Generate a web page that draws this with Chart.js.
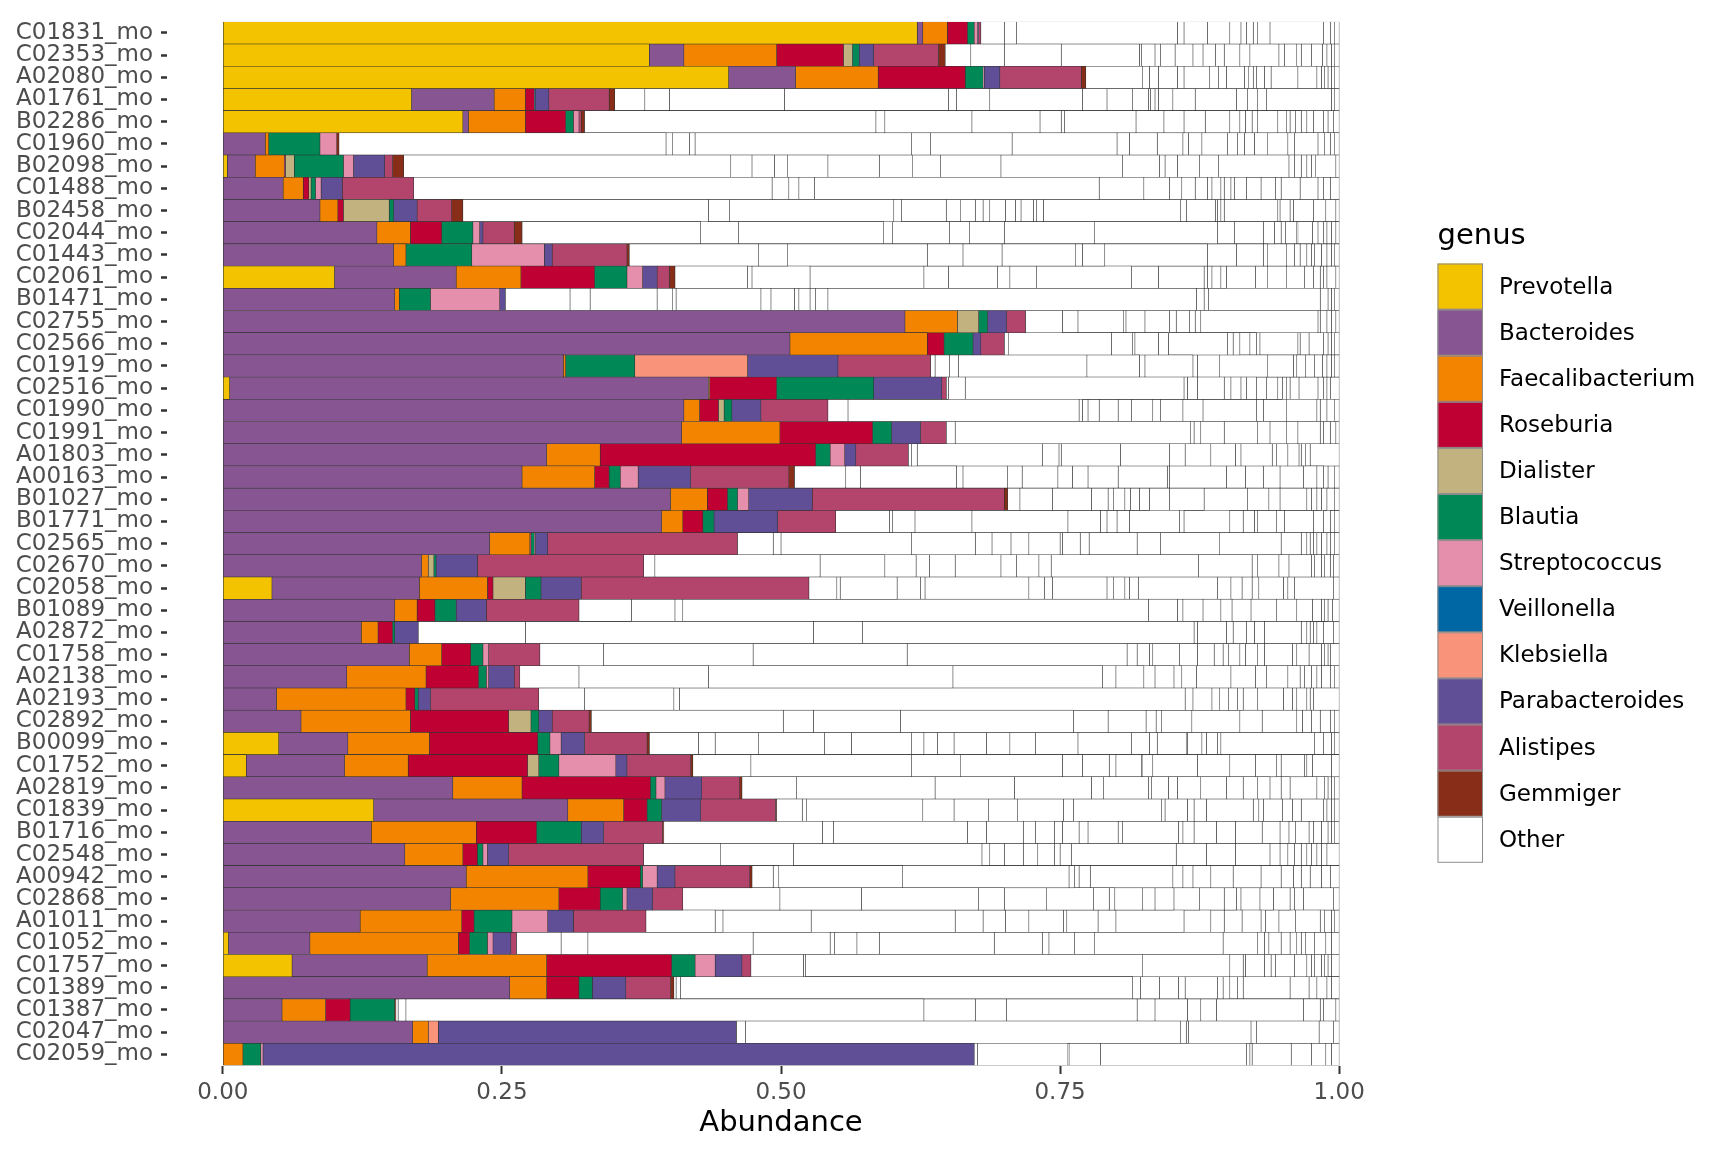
<!DOCTYPE html>
<html>
<head>
<meta charset="utf-8">
<script src="https://cdn.jsdelivr.net/npm/chart.js@4.4.1/dist/chart.umd.min.js"></script>
<style>
  html, body { margin: 0; padding: 0; background: #ffffff; }
  #wrap { width: 1728px; height: 1152px; position: relative; }
</style>
</head>
<body>
<div id="wrap"><canvas id="abundanceChart"></canvas></div>
<script>
// samples, top to bottom
const samples = ['C01831_mo','C02353_mo','A02080_mo','A01761_mo','B02286_mo','C01960_mo','B02098_mo','C01488_mo',
  'B02458_mo','C02044_mo','C01443_mo','C02061_mo','B01471_mo','C02755_mo','C02566_mo','C01919_mo','C02516_mo',
  'C01990_mo','C01991_mo','A01803_mo','A00163_mo','B01027_mo','B01771_mo','C02565_mo','C02670_mo','C02058_mo',
  'B01089_mo','A02872_mo','C01758_mo','A02138_mo','A02193_mo','C02892_mo','B00099_mo','C01752_mo','A02819_mo',
  'C01839_mo','B01716_mo','C02548_mo','A00942_mo','C02868_mo','A01011_mo','C01052_mo','C01757_mo','C01389_mo',
  'C01387_mo','C02047_mo','C02059_mo'];

const genera = ['Prevotella','Bacteroides','Faecalibacterium','Roseburia','Dialister','Blautia','Streptococcus',
  'Veillonella','Klebsiella','Parabacteroides','Alistipes','Gemmiger'];

// relative abundance per genus (one value per sample)
const prevotella = [.622,.382,.453,.169,.215,0,.004,0,0,0,0,.100,0,0,0,0,.006,0,0,0,0,0,0,0,0,.044,0,0,0,0,0,0,.050,.021,0,.135,0,0,0,0,0,.005,.062,0,0,0,0];
const bacteroides = [.005,.031,.060,.074,.005,.038,.025,.054,.087,.138,.153,.109,.154,.611,.508,.305,.429,.413,.411,.290,.268,.401,.393,.239,.178,.132,.154,.124,.167,.111,.048,.070,.062,.088,.206,.174,.133,.163,.218,.204,.123,.073,.121,.257,.053,.170,0];
const faecalibacterium = [.022,.083,.074,.028,.051,.003,.026,.018,.016,.030,.011,.058,.004,.047,.123,.002,.001,.014,.088,.048,.065,.033,.019,.036,.006,.061,.020,.015,.029,.071,.116,.098,.073,.057,.062,.050,.094,.052,.109,.097,.091,.133,.107,.033,.039,.014,.018];
const roseburia = [.018,.060,.078,.008,.036,0,.001,.005,.005,.028,0,.066,0,0,.015,0,.060,.017,.083,.193,.013,.018,.018,.001,0,.005,.016,.013,.026,.047,.008,.088,.097,.107,.115,.021,.054,.013,.047,.037,.011,.010,.112,.029,.022,0,0];
const dialister = [0,.008,0,0,0,0,.008,.002,.041,0,0,0,0,.019,0,0,0,.005,0,0,0,0,0,0,.005,.029,0,0,0,0,0,.020,0,.010,0,0,0,0,0,0,0,0,0,0,0,0,0];
const blautia = [.006,.006,.016,0,.007,.046,.044,.004,.004,.028,.059,.029,.028,.008,.026,.062,.087,.007,.017,.013,.010,.009,.010,.003,.002,.014,.019,.002,.011,.007,.003,.007,.011,.018,.005,.013,.040,.005,.002,.020,.034,.016,.021,.012,.040,0,.016];
const streptococcus = [.003,0,.001,0,.005,.015,.009,.005,0,.006,.065,.014,.062,0,0,0,0,0,0,.013,.016,.010,0,.001,0,0,0,0,.005,.002,0,0,.010,.051,.008,0,0,.004,.013,.004,.032,.005,.018,0,0,0,.002];
const veillonella = [0,0,0,.001,0,0,0,0,0,0,0,0,0,0,0,0,0,0,0,0,0,0,0,0,0,0,0,0,0,0,0,0,0,0,0,0,0,0,0,0,0,0,0,0,0,0,0];
const klebsiella = [0,0,0,0,0,0,0,0,0,0,0,0,0,0,0,.101,0,0,0,0,0,0,0,0,0,0,0,0,0,0,0,0,0,0,0,0,0,0,0,0,0,0,0,0,0,.009,0];
const parabacteroides = [.001,.013,.014,.012,0,0,.028,.019,.021,.003,.007,.013,.005,.017,.007,.081,.061,.026,.026,.010,.047,.057,.057,.011,.037,.036,.027,.021,0,.023,.011,.012,.021,.010,.033,.035,.020,.019,.016,.023,.023,.016,.024,.030,0,.267,.637];
const alistipes = [.002,.058,.073,.054,.002,0,.007,.064,.031,.028,.067,.011,0,.017,.021,.083,.004,.060,.023,.047,.088,.172,.052,.170,.149,.204,.083,0,.046,.005,.097,.033,.056,.057,.034,.067,.053,.121,.067,.027,.065,.005,.008,.040,0,0,0];
const gemmiger = [0,.006,.004,.005,.003,.002,.010,0,.010,.007,.002,.005,0,0,0,0,0,0,0,0,.005,.003,0,0,0,0,0,0,0,0,0,.002,.002,.002,.002,.001,.001,0,.002,0,0,0,0,.003,.001,0,0];

// cut points between the many small "Other" taxa, per sample
const otherBreaks = [
  [.700,.711,.855,.861,.882,.902,.912,.917,.923,.927,.938,.986,.992,.996],
  [.670,.700,.751,.821,.823,.835,.840,.853,.869,.878,.889,.897,.911,.920,.946,.951,.962,.966,.975,.985,.989,.993,.996],
  [.824,.830,.838,.855,.861,.884,.892,.899,.915,.919,.923,.926,.933,.939,.963,.980,.984,.987,.990,.993,.996],
  [.378,.400,.503,.650,.657,.687,.770,.792,.815,.829,.831,.835,.838,.851,.871,.908,.918,.927,.935,.993,.996],
  [.585,.593,.671,.732,.751,.754,.818,.843,.861,.880,.902,.911,.916,.922,.927,.945,.953,.956,.961,.966,.971,.977,.986,.990,.995],
  [.397,.403,.418,.423,.617,.634,.707,.801,.812,.837,.860,.865,.877,.900,.909,.915,.924,.936,.954,.960,.981,.987,.992,.996],
  [.455,.474,.494,.506,.542,.588,.618,.643,.697,.806,.839,.844,.855,.875,.892,.955,.960,.966,.971,.975,.979,.997],
  [.492,.507,.516,.530,.785,.825,.848,.859,.871,.882,.886,.894,.897,.903,.906,.917,.930,.943,.948,.965,.981,.986,.992],
  [.435,.454,.601,.608,.648,.661,.674,.681,.687,.701,.710,.715,.726,.729,.735,.858,.863,.889,.891,.894,.897,.945,.947,.956,.959,.977,.988,.997],
  [.428,.462,.592,.600,.651,.669,.700,.781,.891,.906,.932,.942,.948,.952,.962,.963,.976,.981,.986,.989,.993,.997],
  [.480,.506,.631,.663,.698,.764,.770,.790,.882,.908,.932,.936,.953,.960,.965,.971,.975,.978,.984,.989,.993,.996],
  [.470,.474,.526,.628,.650,.694,.705,.729,.814,.838,.879,.882,.886,.894,.899,.925,.936,.953,.969,.977,.983,.986,.989,.997],
  [.311,.329,.389,.403,.406,.482,.491,.512,.516,.526,.531,.542,.872,.879,.883,.983,.990,.993,.996],
  [.752,.766,.807,.809,.826,.848,.854,.866,.871,.876,.981,.983,.989,.993,.997],
  [.704,.796,.815,.817,.838,.847,.900,.905,.911,.920,.926,.929,.963,.965,.973,.986,.990,.993,.996],
  [.638,.651,.659,.774,.821,.826,.869,.873,.893,.936,.959,.962,.970,.978,.985,.989,.993,.996],
  [.650,.665,.861,.864,.873,.897,.903,.912,.917,.926,.935,.945,.949,.953,.956,.964,.981,.986,.989,.992],
  [.560,.767,.770,.775,.785,.802,.814,.833,.840,.860,.878,.926,.932,.953,.980,.983,.989,.996],
  [.656,.867,.870,.876,.897,.927,.938,.953,.963,.983,.986,.992,.997],
  [.617,.622,.734,.749,.751,.804,.848,.862,.885,.907,.912,.940,.944,.954,.964,.966,.970,.974],
  [.558,.571,.657,.663,.703,.716,.748,.761,.775,.802,.846,.848,.899,.916,.932,.947,.968,.980,.986,.990,.996],
  [.714,.743,.778,.793,.798,.808,.813,.821,.830,.848,.879,.918,.937,.947,.971,.975,.980,.984,.989,.996],
  [.597,.600,.620,.671,.757,.786,.792,.801,.812,.857,.861,.902,.914,.924,.927,.944,.951,.977,.986,.992,.996],
  [.493,.500,.617,.674,.689,.706,.722,.750,.752,.768,.776,.819,.840,.893,.948,.966,.971,.974,.977,.980,.984,.989,.992,.996],
  [.387,.535,.593,.621,.633,.656,.697,.711,.731,.742,.874,.922,.927,.946,.955,.975,.978,.984,.987,.992,.995],
  [.550,.553,.604,.625,.629,.722,.736,.743,.792,.798,.808,.812,.820,.891,.903,.913,.922,.928,.950,.954,.960,.995],
  [.366,.405,.412,.829,.855,.860,.878,.894,.904,.921,.944,.962,.976,.984,.987,.990,.994],
  [.271,.529,.573,.870,.873,.899,.905,.917,.924,.933,.966,.971,.974,.977,.980,.986,.995],
  [.341,.475,.613,.810,.819,.830,.833,.857,.873,.888,.896,.901,.911,.916,.927,.933,.958,.962,.973,.984,.987,.990,.992],
  [.319,.435,.654,.788,.800,.825,.835,.852,.859,.872,.903,.925,.935,.954,.965,.969,.975,.980,.984,.992,.996],
  [.324,.404,.409,.862,.869,.886,.893,.901,.909,.914,.927,.950,.958,.962,.971,.974,.977],
  [.502,.529,.607,.762,.793,.827,.836,.841,.868,.911,.931,.962,.967,.975,.983,.992,.996],
  [.426,.441,.480,.539,.563,.617,.628,.640,.655,.684,.705,.728,.766,.814,.830,.837,.863,.864,.877,.881,.891,.894,.978,.986,.993,.996],
  [.473,.617,.661,.752,.770,.794,.800,.823,.824,.833,.873,.902,.925,.944,.948,.969,.971,.976,.993],
  [.514,.638,.709,.778,.789,.829,.832,.847,.855,.876,.899,.914,.927,.938,.948,.956,.980,.987,.990,.993,.996],
  [.519,.523,.627,.655,.686,.712,.753,.762,.841,.844,.864,.870,.881,.923,.928,.932,.949,.958,.966,.986,.989,.993,.996],
  [.537,.547,.667,.684,.717,.728,.745,.752,.767,.775,.802,.806,.856,.860,.870,.890,.907,.931,.947,.955,.961,.973,.977,.984,.990,.993,.996],
  [.446,.511,.680,.687,.700,.717,.730,.745,.750,.760,.854,.881,.907,.938,.947,.954,.960,.966,.971,.975,.980,.984,.989],
  [.493,.498,.609,.758,.763,.767,.777,.851,.860,.869,.885,.905,.930,.948,.959,.966,.974,.984,.992],
  [.499,.572,.677,.700,.738,.780,.794,.799,.824,.835,.852,.875,.897,.908,.912,.929,.941,.956,.960,.968,.995],
  [.441,.448,.527,.656,.681,.701,.722,.753,.756,.784,.800,.861,.885,.897,.913,.930,.934,.946,.961,.983,.987,.993,.996],
  [.303,.327,.475,.544,.548,.568,.588,.691,.734,.740,.763,.781,.896,.927,.933,.937,.948,.956,.962,.966,.970,.978,.988,.993],
  [.520,.522,.824,.902,.914,.916,.933,.939,.943,.960,.971,.975,.978,.984,.987,.990,.993],
  [.406,.410,.815,.822,.839,.856,.862,.891,.896,.902,.909,.914,.956,.973,.980,.989,.993],
  [.157,.164,.628,.674,.702,.819,.835,.864,.876,.890,.968,.983,.986,.997],
  [.468,.858,.863,.865,.921,.926,.982,.995],
  [.676,.757,.758,.786,.917,.920,.922,.957,.975,.988,.993]
];

const xTicks = [0, 0.25, 0.5, 0.75, 1];

// Kelly palette, same order as the legend
const colors = ['#F3C300','#875692','#F38400','#BE0032','#C2B280','#008856','#E68FAC','#0067A5','#F99379','#604E97','#B3446C','#882D17'];
const genusValues = [prevotella, bacteroides, faecalibacterium, roseburia, dialister, blautia, streptococcus,
  veillonella, klebsiella, parabacteroides, alistipes, gemmiger];

const FONT = "'DejaVu Sans', 'Liberation Sans', sans-serif";
const EDGE = '#333333';

document.addEventListener('DOMContentLoaded', () => {
    initChart();
});

function buildDatasets() {
    const sets = genera.map((g, i) => ({
        label: g,
        data: genusValues[i].map(v => (v > 0 ? v : null)),
        backgroundColor: colors[i]
    }));

    // split the rest of every bar into the white "Other" pieces
    const pieces = samples.map((s, r) => {
        const start = genusValues.reduce((acc, arr) => acc + arr[r], 0);
        const cuts = otherBreaks[r].filter(b => b > start + 0.0005);
        const edges = [start, ...cuts, 1];
        const out = [];
        for (let k = 1; k < edges.length; k++) out.push(edges[k] - edges[k - 1]);
        return out;
    });
    const nOther = Math.max(...pieces.map(p => p.length));
    for (let k = 0; k < nOther; k++) {
        sets.push({
            label: 'Other',
            data: pieces.map(p => (k < p.length ? p[k] : null)),
            backgroundColor: '#ffffff'
        });
    }
    sets.forEach(d => {
        d.borderColor = EDGE;
        d.borderWidth = 0.6;
        d.borderSkipped = false;
        d.barPercentage = 1;
        d.categoryPercentage = 1;
        d.stack = 'all';
    });
    return sets;
}

// legend drawn by hand, ggplot style
const genusLegend = {
    id: 'genusLegend',
    afterDraw(chart) {
        const ctx = chart.ctx;
        const x0 = 1437.5, y0 = 263.5, key = 46.1, keyW = 45.5;
        ctx.save();
        ctx.fillStyle = '#000';
        ctx.font = '29px ' + FONT;
        ctx.textBaseline = 'middle';
        ctx.textAlign = 'left';
        ctx.fillText('genus', x0, 236);

        const names = [...genera, 'Other'];
        const fills = [...colors, '#ffffff'];
        names.forEach((n, i) => {
            const y = y0 + i * key;
            ctx.fillStyle = fills[i];
            ctx.fillRect(x0, y, keyW, key);
            ctx.strokeStyle = '#8c8c8c';
            ctx.lineWidth = 1;
            ctx.strokeRect(x0 + 0.5, y + 0.5, keyW - 1, key - 1);
            ctx.fillStyle = '#000';
            ctx.font = '23px ' + FONT;
            ctx.fillText(n, 1499, y + key / 2 + 1);
        });
        ctx.restore();
    }
};

function initChart() {
    const ctx = document.getElementById('abundanceChart');
    if (!ctx) return;

    new Chart(ctx, {
        type: 'bar',
        data: { labels: samples, datasets: buildDatasets() },
        plugins: [genusLegend],
        options: {
            indexAxis: 'y',
            responsive: true,
            maintainAspectRatio: false,
            animation: false,
            devicePixelRatio: 1,
            layout: { padding: { top: 16.6, right: 333, bottom: 0, left: 0 } },
            plugins: {
                legend: { display: false },
                tooltip: { enabled: false }
            },
            scales: {
                x: {
                    type: 'linear',
                    stacked: true,
                    min: -0.05,
                    max: 1.05,
                    afterFit: s => { s.height = 86.5; },
                    afterBuildTicks: s => { s.ticks = xTicks.map(v => ({ value: v })); },
                    border: { display: false },
                    grid: { drawOnChartArea: false, drawTicks: true, tickLength: 8.5, tickWidth: 2, tickColor: EDGE },
                    ticks: {
                        color: '#4d4d4d',
                        font: { family: FONT, size: 23 },
                        padding: 5,
                        maxRotation: 0,
                        callback: v => Number(v).toFixed(2)
                    },
                    title: {
                        display: true,
                        text: 'Abundance',
                        color: '#000',
                        font: { family: FONT, size: 29, lineHeight: 1.2 },
                        padding: { top: 0, bottom: 11.5 }
                    }
                },
                y: {
                    stacked: true,
                    afterFit: s => { s.width = 167; },
                    border: { display: false },
                    grid: { offset: false, drawOnChartArea: false, drawTicks: true, tickLength: 6, tickWidth: 2.5, tickColor: EDGE },
                    ticks: {
                        autoSkip: false,
                        color: '#4d4d4d',
                        font: { family: FONT, size: 23 },
                        padding: 8
                    }
                }
            }
        }
    });
}
</script>
</body>
</html>
